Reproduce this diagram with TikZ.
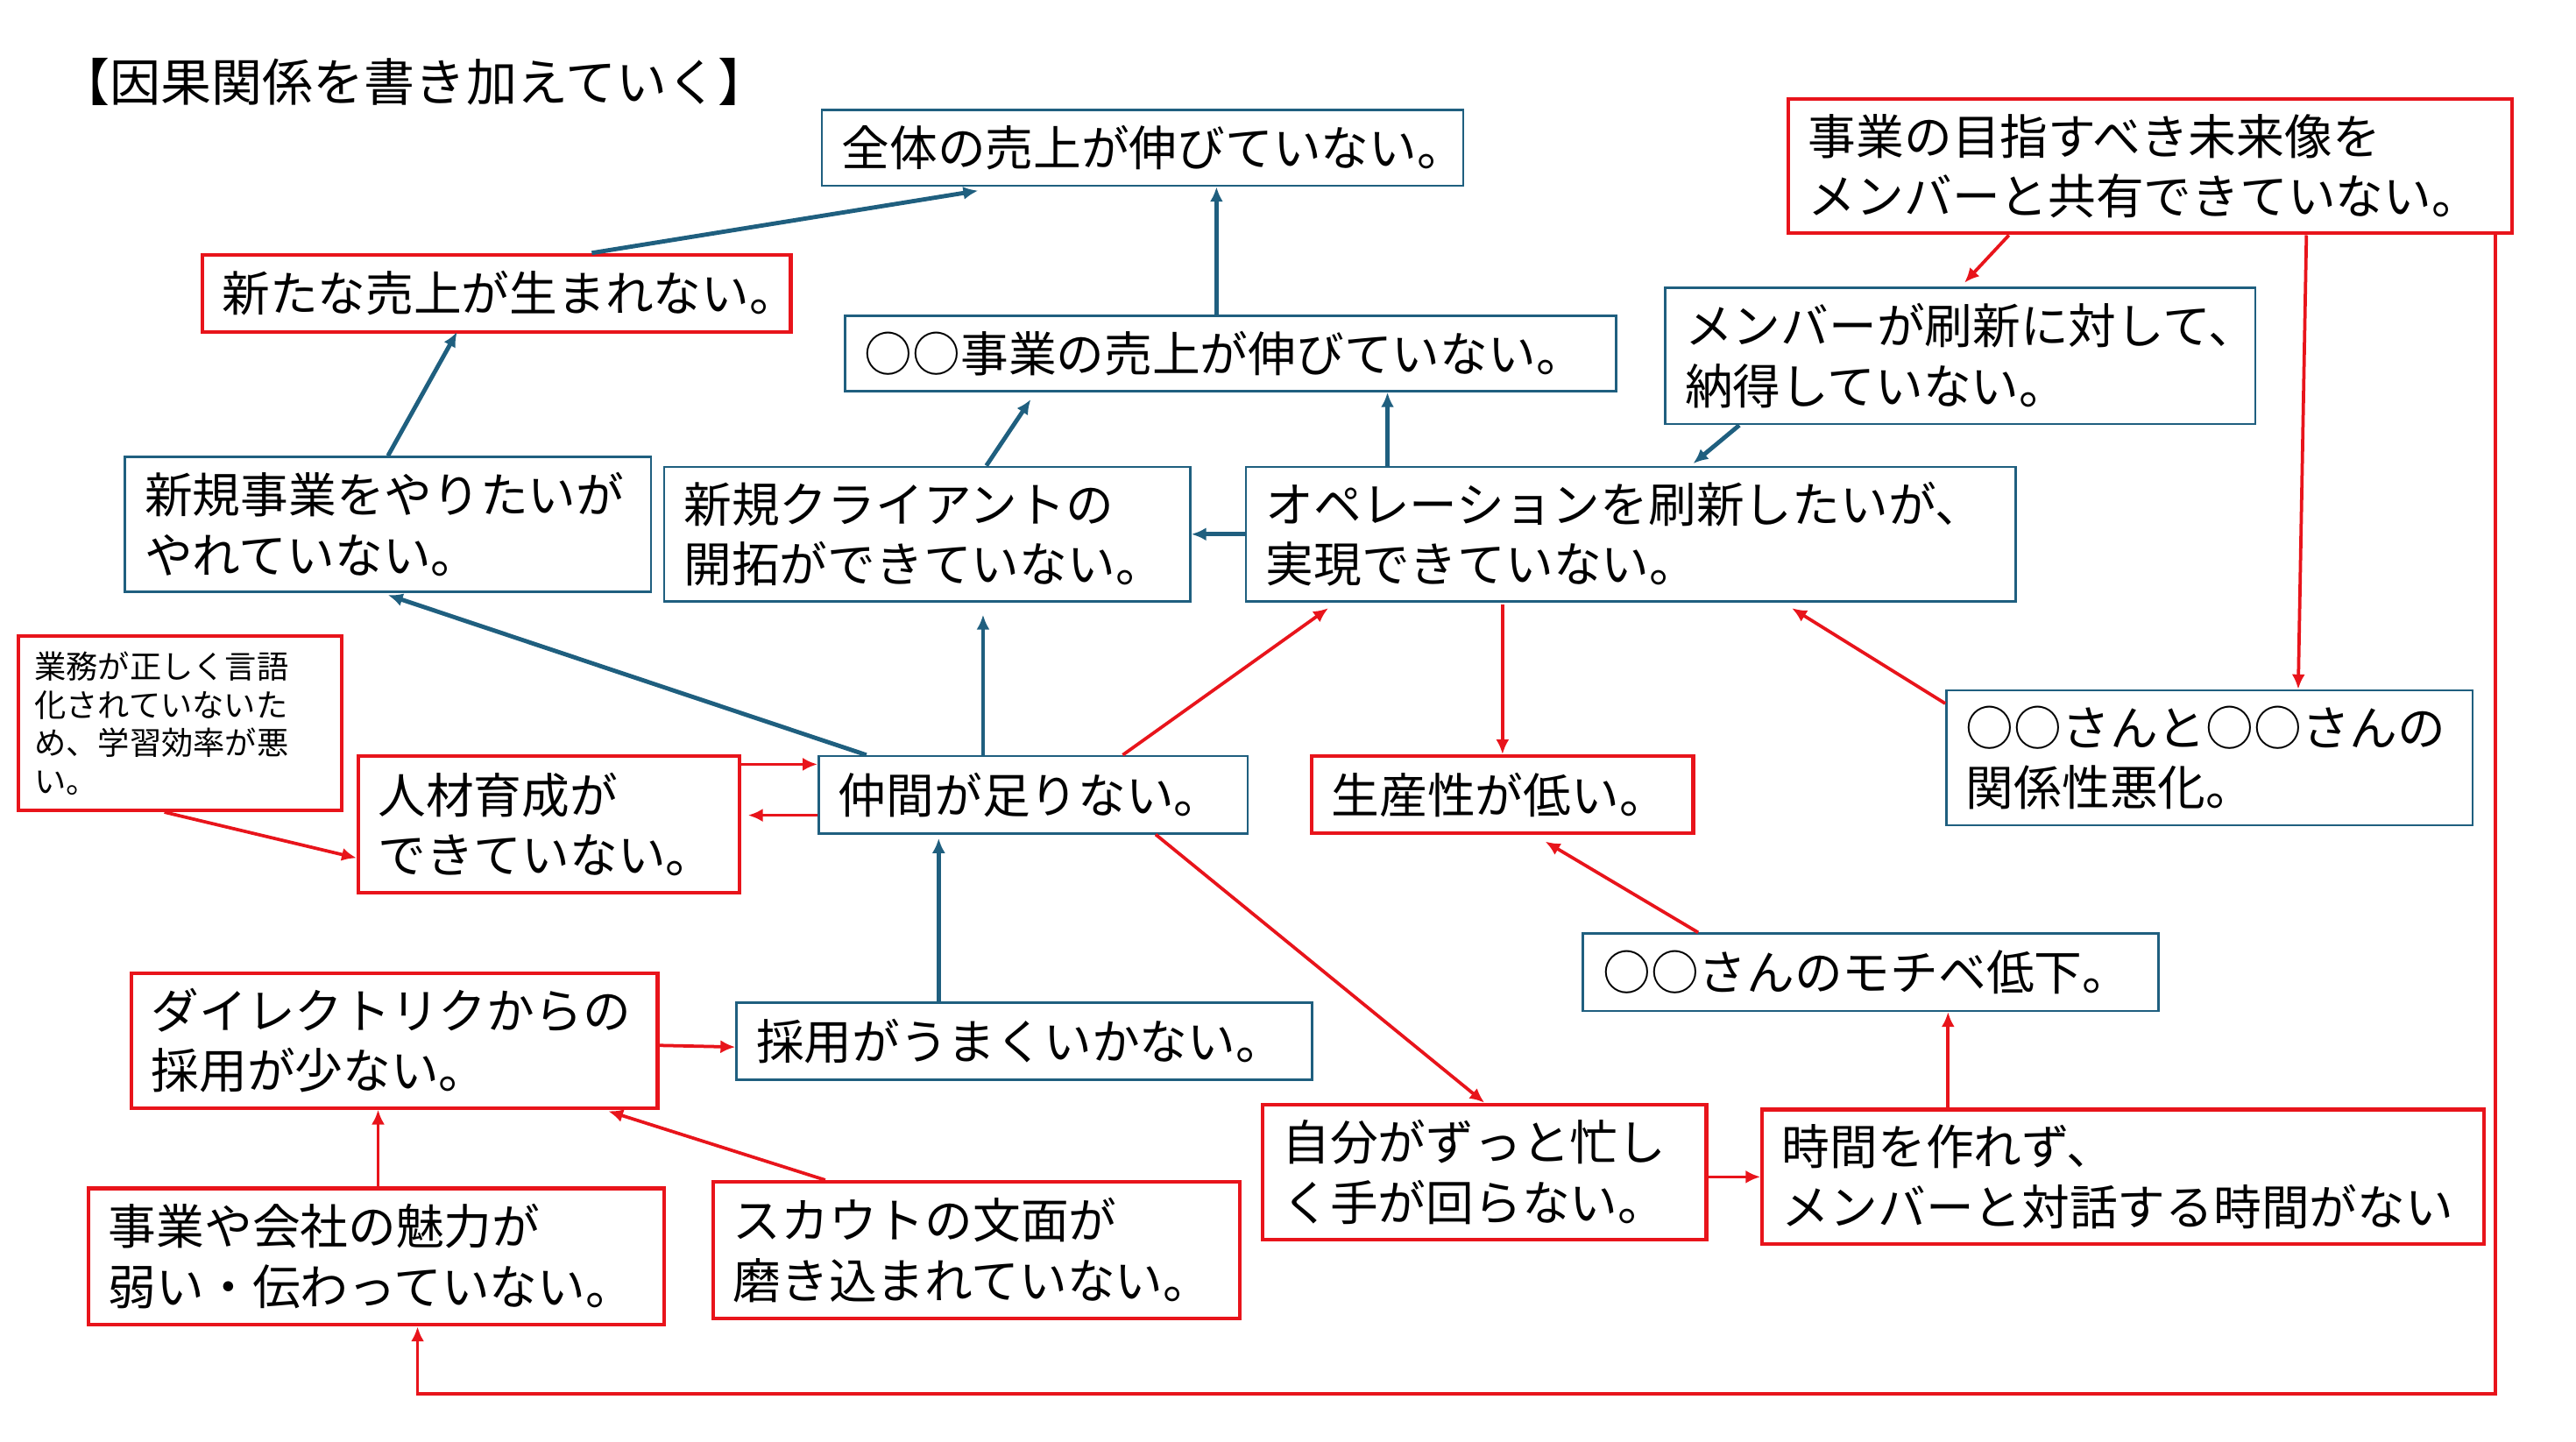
\documentclass[tikz,border=0pt]{standalone}
\usepackage{fontspec}
\setmainfont{Noto Sans CJK JP}
\usetikzlibrary{arrows.meta}
\definecolor{bl}{HTML}{1F5F7F}
\definecolor{rd}{HTML}{E8141B}
\begin{document}
\begin{tikzpicture}[x=0.05cm,y=-0.05cm,
  bb/.style={draw=bl,line width=0.07cm},
  rb/.style={draw=rd,line width=0.11cm},
  every node/.style={font=\fontsize{41.5}{52}\selectfont,align=left,inner sep=0pt},
  ba/.style={draw=bl,line width=0.13cm,-{Latex[length=0.45cm,width=0.4cm]}},
  ra/.style={draw=rd,line width=0.1cm,-{Latex[length=0.45cm,width=0.4cm]}}]
\newcommand\mybox[7]{%
  \pgfmathsetmacro\bw{(#4-#2)*0.05}%
  \pgfmathsetmacro\bh{(#5-#3)*0.05}%
  \pgfmathsetmacro\tw{(#4-#2)*0.05-1.2}%
  \node[#6,minimum width=\bw cm,minimum height=\bh cm,text width=\tw cm] (#1) at ({(#2+#4)/2},{(#3+#5)/2}) {#7};}
\useasboundingbox (0,0) rectangle (1567,877);
\node[anchor=west,font=\fontsize{44}{52}\selectfont] (title) at (36,50) {【因果関係を書き加えていく】};
\mybox{A}{500}{67}{890}{113}{bb}{全体の売上が伸びていない。}
\mybox{B}{123}{155}{481}{202}{rb}{新たな売上が生まれない。}
\mybox{C}{514}{192}{983}{238}{bb}{○○事業の売上が伸びていない。}
\mybox{D}{1088}{60}{1528}{142}{rb}{事業の目指すべき未来像を\\メンバーと共有できていない。}
\mybox{E}{1013}{175}{1372}{258}{bb}{メンバーが刷新に対して、\\納得していない。}
\mybox{F}{76}{278}{396}{360}{bb}{新規事業をやりたいが\\やれていない。}
\mybox{G}{404}{284}{724}{366}{bb}{新規クライアントの\\開拓ができていない。}
\mybox{H}{758}{284}{1226}{366}{bb}{オペレーションを刷新したいが、\\実現できていない。}
\pgfmathsetmacro\bw{197*0.05}\pgfmathsetmacro\bh{106*0.05}\pgfmathsetmacro\tw{197*0.05-1.0}
\node[rb,minimum width=\bw cm,minimum height=\bh cm,text width=\tw cm,font=\fontsize{27.5}{33}\selectfont] (I) at (109.5,440) {業務が正しく言語\\化されていないた\\め、学習効率が悪\\い。};
\mybox{J}{218}{460}{450}{543}{rb}{人材育成が\\できていない。}
\mybox{K}{498}{460}{759}{507}{bb}{仲間が足りない。}
\mybox{L}{798}{460}{1030}{507}{rb}{生産性が低い。}
\mybox{M}{1184}{420}{1504}{502}{bb}{○○さんと○○さんの\\関係性悪化。}
\mybox{N}{963}{568}{1313}{615}{bb}{○○さんのモチベ低下。}
\mybox{O}{80}{592}{400}{674}{rb}{ダイレクトリクからの\\採用が少ない。}
\mybox{P}{448}{610}{798}{657}{bb}{採用がうまくいかない。}
\mybox{Q}{768}{672}{1038}{754}{rb}{自分がずっと忙し\\く手が回らない。}
\mybox{R}{1072}{675}{1511}{757}{rb}{時間を作れず、\\メンバーと対話する時間がない}
\mybox{S}{54}{723}{404}{806}{rb}{事業や会社の魅力が\\弱い・伝わっていない。}
\mybox{T}{434}{719}{754}{802}{rb}{スカウトの文面が\\磨き込まれていない。}
% blue arrows
\draw[ba] (B.north -| 360,0) -- (595,116);
\draw[ba] (C.north -| 740,0) -- (A.south -| 740,0);
\draw[ba] (F.north -| 236,0) -- (278,202);
\draw[ba] (G.north -| 600,0) -- (627,243);
\draw[ba] (H.north -| 844,0) -- (C.south -| 844,0);
\draw[ba] (E.south -| 1058,0) -- (1030,282);
\draw[ba] (H.west |- 0,325) -- (G.east |- 0,325);
\draw[ba] (K.north -| 527,0) -- (236,362);
\draw[ba] (K.north -| 598,0) -- (598,374);
\draw[ba] (P.north -| 571,0) -- (571,510);
% red arrows
\draw[ra] (K.north -| 683,0) -- (808,370);
\draw[ra] (914,368) -- (L.north -| 914,0);
\draw[ra] (M.west |- 0,428) -- (1090,370);
\draw[ra] (D.south -| 1222,0) -- (1195,172);
\draw[ra] (D.south -| 1403,0) -- (M.north -| 1398,0);
\draw[ra] (D.south -| 1518,0) -- (1518,848) -- (254,848) -- (S.south -| 254,0);
\draw[ra] (J.east |- 0,465) -- (K.west |- 0,465);
\draw[ra] (K.west |- 0,496) -- (455,496);
\draw[ra] (I.south -| 100,0) -- (J.west |- 0,522);
\draw[ra] (O.east |- 0,636) -- (P.west |- 0,637);
\draw[ra] (S.north -| 230,0) -- (O.south -| 230,0);
\draw[ra] (T.north -| 502,0) -- (370,676);
\draw[ra] (K.south -| 703,0) -- (Q.north -| 903,0);
\draw[ra] (Q.east |- 0,716) -- (R.west |- 0,716);
\draw[ra] (R.north -| 1185,0) -- (N.south -| 1185,0);
\draw[ra] (N.north -| 1033,0) -- (940,512);
\end{tikzpicture}
\end{document}
